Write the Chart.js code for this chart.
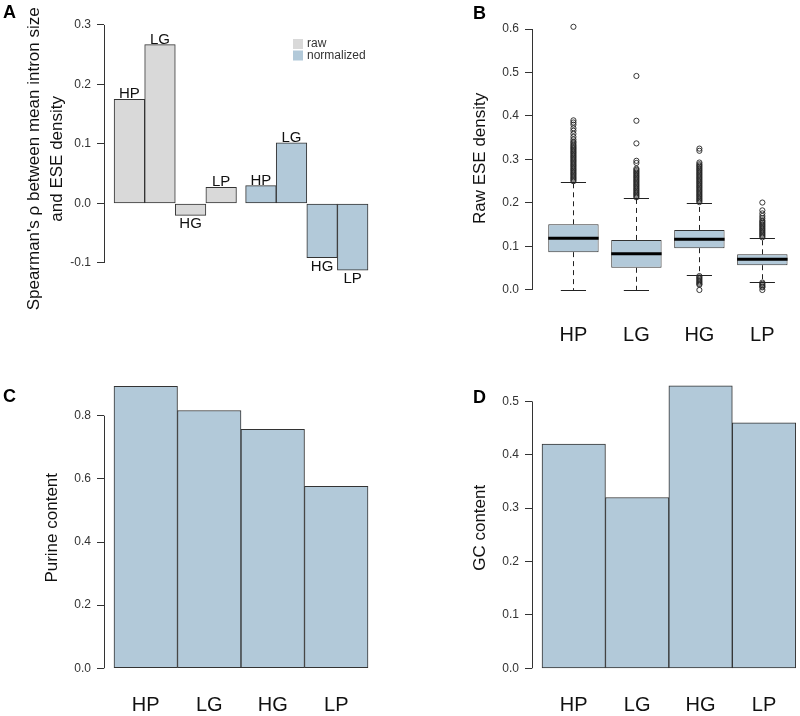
<!DOCTYPE html>
<html>
<head>
<meta charset="utf-8">
<script src="https://cdn.jsdelivr.net/npm/chart.js@4.4.0/dist/chart.umd.min.js"></script>
<style>
  body { margin: 0; background: #fff; }
  #page { position: relative; width: 800px; height: 716px; overflow: hidden; }
  canvas { position: absolute; }
  .letter { position: absolute; font: bold 18px/18px "Liberation Sans", Arial, sans-serif; color: #000; }
</style>
</head>
<body>
<div id="page">
  <canvas id="chartA" width="400" height="330" style="left:0;top:0"></canvas>
  <canvas id="chartB" width="400" height="356" style="left:400px;top:0"></canvas>
  <canvas id="chartC" width="400" height="386" style="left:0;top:330px"></canvas>
  <canvas id="chartD" width="400" height="386" style="left:400px;top:330px"></canvas>
  <div class="letter" style="left:3px;top:3px">A</div>
  <div class="letter" style="left:473px;top:4px">B</div>
  <div class="letter" style="left:3px;top:387px">C</div>
  <div class="letter" style="left:473px;top:388px">D</div>
</div>
<script>
// data
var categories = ['HP', 'LG', 'HG', 'LP'];

// A: Spearman's rho, raw vs normalized
var rawRho = [0.175, 0.267, -0.020, 0.027];
var normRho = [0.030, 0.102, -0.091, -0.112];
var rhoTicks = [-0.1, 0.0, 0.1, 0.2, 0.3];

// B: boxplot of raw ESE density
var boxQ1 = [0.087, 0.051, 0.096, 0.057];
var boxMedian = [0.119, 0.083, 0.1165, 0.0705];
var boxQ3 = [0.151, 0.115, 0.138, 0.082];
var whiskerLow = [0.0, 0.0, 0.034, 0.019];
var whiskerHigh = [0.248, 0.2115, 0.200, 0.119];
var outliersHP = [0.250, 0.253, 0.256, 0.259, 0.262, 0.265, 0.268, 0.271, 0.274, 0.277, 0.280, 0.283,
  0.286, 0.289, 0.292, 0.295, 0.298, 0.301, 0.304, 0.307, 0.310, 0.313, 0.316, 0.319, 0.322, 0.325,
  0.328, 0.331, 0.334, 0.338, 0.341, 0.346, 0.352, 0.359, 0.366, 0.372, 0.380, 0.385, 0.390, 0.605];
var outliersLG = [0.213, 0.216, 0.219, 0.222, 0.225, 0.228, 0.231, 0.234, 0.237, 0.240, 0.243, 0.246,
  0.249, 0.252, 0.255, 0.258, 0.261, 0.264, 0.267, 0.270, 0.273, 0.276, 0.279, 0.292, 0.297, 0.337,
  0.389, 0.492];
var outliersHG = [0.202, 0.205, 0.208, 0.211, 0.214, 0.217, 0.220, 0.223, 0.226, 0.229, 0.232, 0.235,
  0.238, 0.241, 0.244, 0.247, 0.250, 0.253, 0.256, 0.259, 0.262, 0.265, 0.268, 0.271, 0.274, 0.277,
  0.280, 0.283, 0.286, 0.289, 0.293, 0.320, 0.325,
  0.032, 0.029, 0.026, 0.023, 0.020, 0.017, 0.014, 0.012, 0.0];
var outliersLP = [0.121, 0.124, 0.127, 0.130, 0.133, 0.136, 0.139, 0.142, 0.145, 0.148, 0.151, 0.154,
  0.157, 0.160, 0.165, 0.170, 0.176, 0.183, 0.201,
  0.017, 0.014, 0.011, 0.008, 0.006, 0.0];
var eseTicks = [0.0, 0.1, 0.2, 0.3, 0.4, 0.5, 0.6];

// C: purine content
var purine = [0.893, 0.8165, 0.757, 0.576];
var purineTicks = [0.0, 0.2, 0.4, 0.6, 0.8];

// D: GC content
var gcContent = [0.420, 0.320, 0.529, 0.460];
var gcTicks = [0.0, 0.1, 0.2, 0.3, 0.4, 0.5];

var FONT = '"Liberation Sans", Arial, Helvetica, sans-serif';
var BLUE = '#b2c9d9';
var GREY = '#d9d9d9';

Chart.defaults.font.family = FONT;
Chart.defaults.animation = false;
Chart.defaults.plugins.legend.display = false;
Chart.defaults.plugins.tooltip.enabled = false;

// R style y axis: line only from first to last tick
var axisLine = {
  id: 'axisLine',
  afterDraw: function (chart) {
    var s = chart.scales.y, ctx = chart.ctx;
    var x = Math.round(chart.chartArea.left) + 0.5;
    ctx.save();
    ctx.strokeStyle = '#333';
    ctx.lineWidth = 1;
    ctx.beginPath();
    ctx.moveTo(x, s.getPixelForValue(s.ticks[0].value));
    ctx.lineTo(x, s.getPixelForValue(s.ticks[s.ticks.length - 1].value));
    ctx.stroke();
    ctx.restore();
  }
};

function valueAxis(tickValues, min, max, width, title, titlePad, lineHeight) {
  return {
    min: min,
    max: max,
    afterBuildTicks: function (s) {
      s.ticks = tickValues.map(function (v) { return { value: v }; });
    },
    afterFit: function (s) { s.width = width; },
    grid: { drawOnChartArea: false, drawTicks: true, tickLength: 7, color: '#333', lineWidth: 1 },
    border: { display: false },
    ticks: {
      font: { size: 12 }, color: '#333', padding: 6,
      callback: function (v) { return v.toFixed(1); }
    },
    title: {
      display: true, text: title, color: '#111',
      font: { size: 17, lineHeight: lineHeight || 1.2 },
      padding: { top: titlePad, bottom: 0 }
    }
  };
}

function categoryAxis(min, max, height, pad) {
  return {
    type: 'linear',
    min: min,
    max: max,
    offset: false,
    afterBuildTicks: function (s) {
      s.ticks = categories.map(function (c, i) { return { value: i }; });
    },
    afterFit: function (s) { s.height = height; },
    grid: { display: false, offset: false },
    border: { display: false },
    ticks: {
      font: { size: 20 }, color: '#111', padding: pad, autoSkip: false, maxRotation: 0,
      callback: function (v) { return categories[v]; }
    }
  };
}

var barStyle = {
  bar: { borderColor: '#333', borderWidth: 1, borderSkipped: false, grouped: false,
         barPercentage: 1, categoryPercentage: 1 }
};

// ---------- A ----------
var barNames = {
  id: 'barNames',
  afterDatasetsDraw: function (chart) {
    var ctx = chart.ctx;
    ctx.save();
    ctx.font = '15px ' + FONT;
    ctx.fillStyle = '#111';
    ctx.textAlign = 'center';
    ctx.textBaseline = 'alphabetic';
    chart.data.datasets.forEach(function (ds, d) {
      chart.getDatasetMeta(d).data.forEach(function (bar, i) {
        var v = ds.data[i].y;
        ctx.fillText(categories[i], bar.x, v >= 0 ? bar.y - 1 : bar.y + 13);
      });
    });
    ctx.restore();
  }
};

var legendBox = {
  id: 'legendBox',
  afterDraw: function (chart) {
    var ctx = chart.ctx;
    ctx.save();
    ctx.font = '12px ' + FONT;
    ctx.textBaseline = 'middle';
    chart.data.datasets.forEach(function (ds, d) {
      var y = 39 + d * 11.5;
      ctx.fillStyle = ds.backgroundColor;
      ctx.fillRect(293, y, 10, 10);
      ctx.fillStyle = '#333';
      ctx.fillText(ds.label, 307, y + 5);
    });
    ctx.restore();
  }
};

new Chart(document.getElementById('chartA'), {
  type: 'bar',
  data: {
    datasets: [
      { label: 'raw', backgroundColor: GREY,
        data: rawRho.map(function (v, i) { return { x: i + 0.5, y: v }; }) },
      { label: 'normalized', backgroundColor: BLUE,
        data: normRho.map(function (v, i) { return { x: i + 4.8, y: v }; }) }
    ]
  },
  options: {
    responsive: false,
    layout: { padding: { top: 19, right: 22, bottom: 31.3, left: 0 } },
    datasets: barStyle,
    scales: {
      x: {
        type: 'linear', display: false, offset: false, min: -0.33, max: 8.627,
        afterBuildTicks: function (s) {
          s.ticks = [0.5, 1.5, 2.5, 3.5, 4.8, 5.8, 6.8, 7.8].map(function (v) { return { value: v }; });
        }
      },
      y: valueAxis(rhoTicks, -0.16, 0.31, 104,
        ["Spearman's \u03c1 between mean intron size", 'and ESE density'], 23.2, 1.32)
    }
  },
  plugins: [axisLine, barNames, legendBox]
});

// ---------- B ----------
var boxParts = {
  id: 'boxParts',
  afterDatasetsDraw: function (chart) {
    var ctx = chart.ctx, y = chart.scales.y;
    ctx.save();
    chart.getDatasetMeta(0).data.forEach(function (box, i) {
      var half = box.width / 2, x = Math.round(box.x) + 0.5;
      ctx.strokeStyle = '#222';
      ctx.lineWidth = 1;
      ctx.setLineDash([5, 4]);
      ctx.beginPath();
      ctx.moveTo(x, y.getPixelForValue(boxQ3[i]));
      ctx.lineTo(x, y.getPixelForValue(whiskerHigh[i]));
      ctx.moveTo(x, y.getPixelForValue(boxQ1[i]));
      ctx.lineTo(x, y.getPixelForValue(whiskerLow[i]));
      ctx.stroke();
      ctx.setLineDash([]);
      ctx.beginPath();
      [whiskerHigh[i], whiskerLow[i]].forEach(function (v) {
        var py = Math.round(y.getPixelForValue(v)) + 0.5;
        ctx.moveTo(box.x - half / 2, py);
        ctx.lineTo(box.x + half / 2, py);
      });
      ctx.stroke();
      ctx.strokeStyle = '#000';
      ctx.lineWidth = 3;
      ctx.beginPath();
      var m = y.getPixelForValue(boxMedian[i]);
      ctx.moveTo(box.x - half, m);
      ctx.lineTo(box.x + half, m);
      ctx.stroke();
    });
    ctx.restore();
  }
};

var outlierPoints = [];
[outliersHP, outliersLG, outliersHG, outliersLP].forEach(function (list, i) {
  list.forEach(function (v) { outlierPoints.push({ x: i, y: v }); });
});

new Chart(document.getElementById('chartB'), {
  type: 'bar',
  data: {
    datasets: [
      { label: 'box', backgroundColor: BLUE, barPercentage: 0.8,
        data: boxQ1.map(function (q, i) { return { x: i, y: [q, boxQ3[i]] }; }) },
      { type: 'scatter', label: 'outliers', data: outlierPoints, showLine: false,
        pointRadius: 2.6, pointBorderWidth: 0.9, borderColor: '#222', backgroundColor: 'rgba(0,0,0,0)' }
    ]
  },
  options: {
    responsive: false,
    layout: { padding: { top: 16.3, right: 3, bottom: 0, left: 0 } },
    datasets: barStyle,
    scales: {
      x: categoryAxis(-0.658, 3.52, 55.5, 15),
      y: valueAxis(eseTicks, -0.0242, 0.6292, 132, 'Raw ESE density', 70)
    }
  },
  plugins: [axisLine, boxParts]
});

// ---------- C ----------
new Chart(document.getElementById('chartC'), {
  type: 'bar',
  data: {
    datasets: [{ label: 'Purine content', backgroundColor: BLUE,
      data: purine.map(function (v, i) { return { x: i, y: v }; }) }]
  },
  options: {
    responsive: false,
    layout: { padding: { top: 44.7, right: 22, bottom: 0, left: 0 } },
    datasets: barStyle,
    scales: {
      x: categoryAxis(-0.6575, 3.6575, 35.1, 5),
      y: valueAxis(purineTicks, -0.04, 0.93, 104, 'Purine content', 42.3)
    }
  },
  plugins: [axisLine]
});

// ---------- D ----------
new Chart(document.getElementById('chartD'), {
  type: 'bar',
  data: {
    datasets: [{ label: 'GC content', backgroundColor: BLUE,
      data: gcContent.map(function (v, i) { return { x: i, y: v }; }) }]
  },
  options: {
    responsive: false,
    layout: { padding: { top: 44.7, right: 3, bottom: 0, left: 0 } },
    datasets: barStyle,
    scales: {
      x: categoryAxis(-0.658, 3.52, 35.1, 5),
      y: valueAxis(gcTicks, -0.0236, 0.55, 132, 'GC content', 70)
    }
  },
  plugins: [axisLine]
});
</script>
</body>
</html>
